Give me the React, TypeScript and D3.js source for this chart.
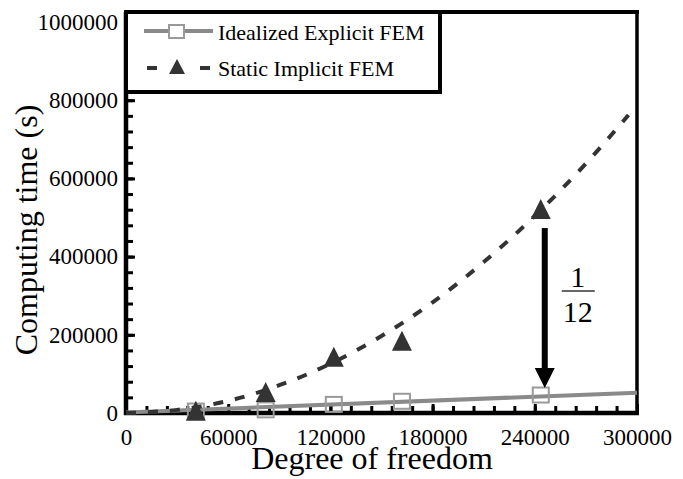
import * as d3 from "d3";
import React, { useEffect, useRef } from "react";

// values
const dof = [41000, 82000, 122000, 162000, 243500];
const explicitTime = [5000, 8000, 22000, 30000, 46000];
const implicitTime = [3000, 51000, 141000, 182000, 519000];
const explicitFitDof = [0, 300000];
const explicitFit = [1000, 52000];
const implicitFitDof = [0, 30000, 60000, 90000, 120000, 150000, 180000, 210000, 240000, 270000, 295000];
const implicitFit = [0, 8000, 31000, 71000, 126000, 197000, 283000, 386000, 504000, 638000, 762000];
const xTicks = [0, 60000, 120000, 180000, 240000, 300000];
const yTicks = [0, 200000, 400000, 600000, 800000, 1000000];
const legendLabels = ["Idealized Explicit FEM", "Static Implicit FEM"];
const ratioLabel = ["1", "12"];

const W = 683;
const H = 479;
const FONT = "Liberation Serif, Times New Roman, Times, serif";
const TRI = "M0,-11L10,9L-10,9Z";

function App() {
  const ref = useRef<SVGSVGElement>(null);

  useEffect(() => {
    const svg = d3.select(ref.current);
    svg.selectAll("*").remove();

    const x = d3.scaleLinear().domain([0, 300000]).range([126, 637]);
    const y = d3.scaleLinear().domain([0, 1000000]).range([413, 22]);
    const top = 12;

    // minor ticks (inward)
    svg.append("g")
      .attr("transform", "translate(0,413)")
      .call(d3.axisBottom(x).tickValues(d3.range(0, 300001, 12000)).tickSize(-7).tickFormat(() => ""))
      .call((g) => g.select(".domain").remove())
      .call((g) => g.selectAll("line").attr("stroke", "#000").attr("stroke-width", 3));
    svg.append("g")
      .attr("transform", "translate(126,0)")
      .call(d3.axisLeft(y).tickValues(d3.range(0, 1000001, 40000)).tickSize(-7).tickFormat(() => ""))
      .call((g) => g.select(".domain").remove())
      .call((g) => g.selectAll("line").attr("stroke", "#000").attr("stroke-width", 3));

    // major ticks with labels
    svg.append("g")
      .attr("transform", "translate(0,413)")
      .call(d3.axisBottom(x).tickValues(xTicks).tickSize(-9).tickPadding(16).tickFormat(d3.format("d")))
      .call((g) => g.select(".domain").remove())
      .call((g) => g.selectAll("line").attr("stroke", "#000").attr("stroke-width", 3))
      .call((g) => g.selectAll("text").attr("fill", "#000")
        .style("font-family", FONT).style("font-size", "23px"));
    svg.append("g")
      .attr("transform", "translate(126,0)")
      .call(d3.axisLeft(y).tickValues(yTicks).tickSize(-9).tickPadding(8).tickFormat(d3.format("d")))
      .call((g) => g.select(".domain").remove())
      .call((g) => g.selectAll("line").attr("stroke", "#000").attr("stroke-width", 3))
      .call((g) => g.selectAll("text").attr("fill", "#000")
        .style("font-family", FONT).style("font-size", "23px"));

    // frame
    svg.append("line").attr("x1", 126).attr("x2", 126).attr("y1", top).attr("y2", 415)
      .attr("stroke", "#000").attr("stroke-width", 4.5);
    svg.append("line").attr("x1", 124).attr("x2", 639).attr("y1", 413).attr("y2", 413)
      .attr("stroke", "#000").attr("stroke-width", 4.5);
    svg.append("line").attr("x1", 637).attr("x2", 637).attr("y1", top).attr("y2", 415)
      .attr("stroke", "#000").attr("stroke-width", 3.5);
    svg.append("line").attr("x1", 124).attr("x2", 639).attr("y1", top).attr("y2", top)
      .attr("stroke", "#000").attr("stroke-width", 4);

    // fitted curves
    const line = d3.line<[number, number]>().x((d) => x(d[0])).y((d) => y(d[1]));
    svg.append("path")
      .attr("d", line(explicitFitDof.map((d, i) => [d, explicitFit[i]]))!)
      .attr("fill", "none").attr("stroke", "#8a8a8a").attr("stroke-width", 4);
    svg.append("path")
      .attr("d", d3.line<[number, number]>().x((d) => x(d[0])).y((d) => y(d[1])).curve(d3.curveMonotoneX)(
        implicitFitDof.map((d, i) => [d, implicitFit[i]]))!)
      .attr("fill", "none").attr("stroke", "#333").attr("stroke-width", 4)
      .attr("stroke-dasharray", "10,12");

    // markers
    svg.append("g").selectAll("rect").data(dof).enter().append("rect")
      .attr("x", (d) => x(d) - 8)
      .attr("y", (d, i) => y(explicitTime[i]) - 7.5)
      .attr("width", 16).attr("height", 15)
      .attr("fill", "none").attr("stroke", "#9a9a9a").attr("stroke-width", 2);
    svg.append("g").selectAll("path").data(dof).enter().append("path")
      .attr("d", TRI)
      .attr("transform", (d, i) => `translate(${x(d)},${y(implicitTime[i])})`)
      .attr("fill", "#333");

    // 1/12 arrow
    const ax = x(dof[4]) + 4;
    const aTop = y(implicitTime[4]) + 18;
    const aTip = y(explicitTime[4]) - 7;
    svg.append("rect").attr("x", ax - 3).attr("y", aTop).attr("width", 6).attr("height", aTip - 18 - aTop)
      .attr("fill", "#000");
    svg.append("path")
      .attr("d", `M${ax - 10},${aTip - 20}L${ax + 10},${aTip - 20}L${ax},${aTip}Z`)
      .attr("fill", "#000");
    const fx = ax + 33;
    const txt = (sel: any, size: number) => sel.style("font-family", FONT).style("font-size", `${size}px`);
    txt(svg.append("text").attr("x", fx).attr("y", 287).attr("text-anchor", "middle"), 30).text(ratioLabel[0]);
    svg.append("line").attr("x1", fx - 16).attr("x2", fx + 17).attr("y1", 291).attr("y2", 291)
      .attr("stroke", "#333").attr("stroke-width", 1.5);
    txt(svg.append("text").attr("x", fx).attr("y", 322).attr("text-anchor", "middle"), 30).text(ratioLabel[1]);

    // legend
    svg.append("rect").attr("x", 126).attr("y", top).attr("width", 314).attr("height", 80)
      .attr("fill", "#fff").attr("stroke", "#000").attr("stroke-width", 4);
    const lg = svg.append("g");
    lg.append("line").attr("x1", 144).attr("x2", 213).attr("y1", 31).attr("y2", 31)
      .attr("stroke", "#8a8a8a").attr("stroke-width", 4);
    lg.append("rect").attr("x", 169).attr("y", 25).attr("width", 15).attr("height", 13)
      .attr("fill", "#fff").attr("stroke", "#9a9a9a").attr("stroke-width", 2);
    lg.append("line").attr("x1", 147).attr("x2", 157).attr("y1", 68).attr("y2", 68)
      .attr("stroke", "#333").attr("stroke-width", 4);
    lg.append("line").attr("x1", 200).attr("x2", 210).attr("y1", 68).attr("y2", 68)
      .attr("stroke", "#333").attr("stroke-width", 4);
    lg.append("path").attr("d", "M0,-8L8,7L-8,7Z").attr("transform", "translate(177,67)").attr("fill", "#333");
    txt(lg.selectAll("text").data(legendLabels).enter().append("text")
      .attr("x", 218).attr("y", (d: string, i: number) => 40 + i * 36), 22)
      .attr("fill", "#000").text((d: string) => d);

    // axis titles
    txt(svg.append("text").attr("x", 372).attr("y", 469).attr("text-anchor", "middle"), 32)
      .text("Degree of freedom");
    txt(svg.append("text").attr("transform", "translate(37,230) rotate(-90)").attr("text-anchor", "middle"), 32)
      .text("Computing time (s)");
  }, []);

  return (
    <div style={{ position: "absolute", left: 0, top: 0 }}>
      <svg ref={ref} width={W} height={H} style={{ display: "block", background: "#fff" }} />
    </div>
  );
}

export default App;
